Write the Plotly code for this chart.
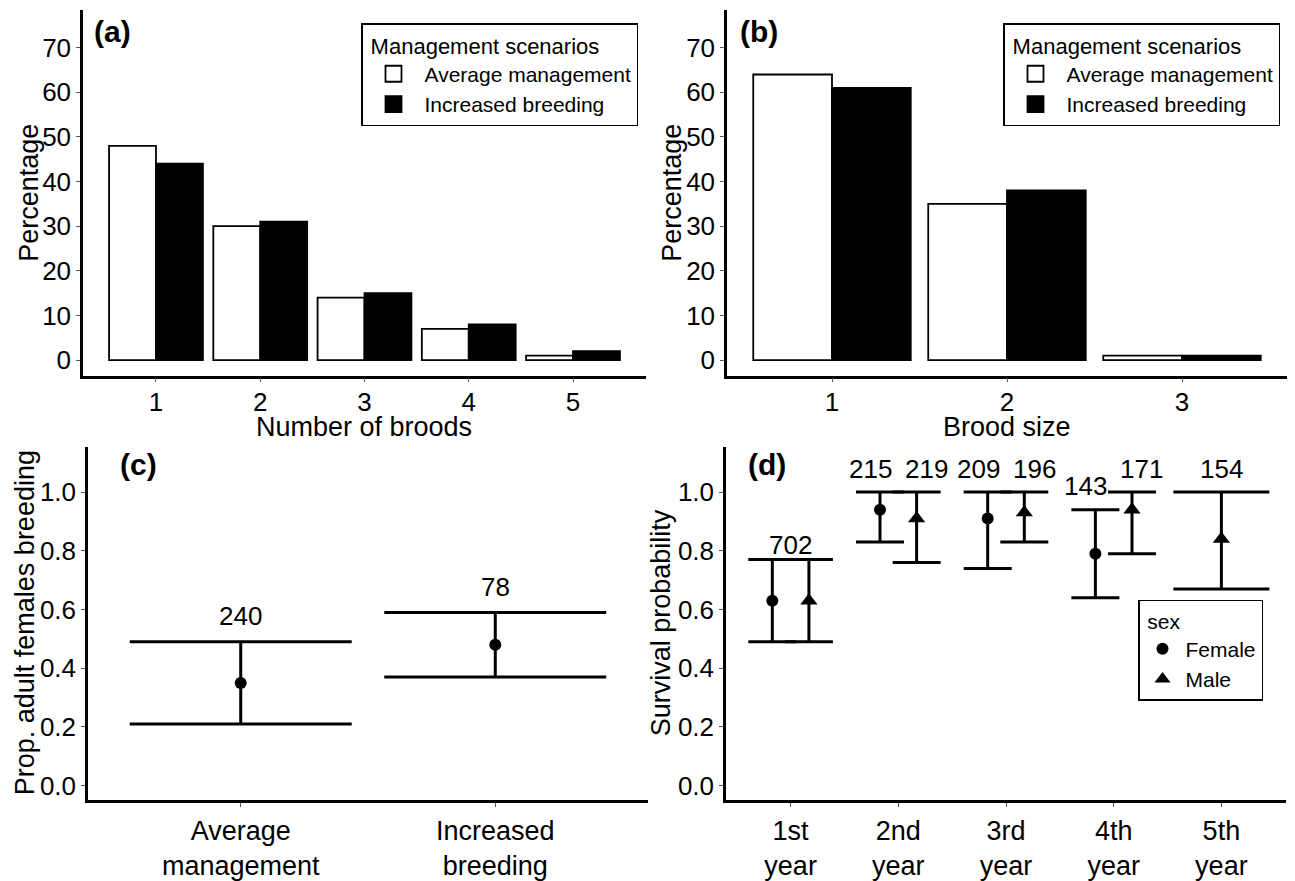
import plotly.graph_objects as go

W, H = 1295, 881

# ---------------- data ----------------
# (a) number of broods
broods = [1, 2, 3, 4, 5]
broods_avg = [48, 30, 14, 7, 1]
broods_inc = [44, 31, 15, 8, 2]

# (b) brood size
brood_size = [1, 2, 3]
size_avg = [64, 35, 1]
size_inc = [61, 38, 1]

# (c) proportion of adult females breeding
scenarios = ["Average<br>management", "Increased<br>breeding"]
prop_mean = [0.35, 0.48]
prop_lo = [0.21, 0.37]
prop_hi = [0.49, 0.59]
prop_n = [240, 78]

# (d) survival probability by age and sex
years = ["1st<br>year", "2nd<br>year", "3rd<br>year", "4th<br>year", "5th<br>year"]
female_mean = [0.63, 0.94, 0.91, 0.79, None]
female_lo = [0.49, 0.83, 0.74, 0.64, None]
female_hi = [0.77, 1.00, 1.00, 0.94, None]
male_mean = [0.63, 0.91, 0.93, 0.94, 0.84]
male_lo = [0.49, 0.76, 0.83, 0.79, 0.67]
male_hi = [0.77, 1.00, 1.00, 1.00, 1.00]
n_female = [None, 215, 209, 143, None]
n_male = [None, 219, 196, 171, 154]
n_pooled = [702, None, None, None, None]

FONT = "Liberation Sans, Arial, Helvetica, sans-serif"

def px(x):
    return x / W

def py(y):
    return 1 - y / H

fig = go.Figure()

# ---------------- (a) and (b) bars ----------------
for xs, avg, inc, ax, lg in [
    (broods, broods_avg, broods_inc, "", "legend"),
    (brood_size, size_avg, size_inc, "2", "legend2"),
]:
    fig.add_trace(go.Bar(x=xs, y=avg, name="Average management",
                         marker=dict(color="white", line=dict(color="black", width=1.8)),
                         xaxis="x" + ax, yaxis="y" + ax, showlegend=False,
                         offsetgroup="avg"))
    fig.add_trace(go.Bar(x=xs, y=inc, name="Increased breeding",
                         marker=dict(color="black", line=dict(color="black", width=1.8)),
                         xaxis="x" + ax, yaxis="y" + ax, showlegend=False,
                         offsetgroup="inc"))
    # legend keys
    for nm, col in [("Average management", "white"), ("Increased breeding", "black")]:
        fig.add_trace(go.Scatter(x=[None], y=[None], mode="markers", name=nm,
                                 marker=dict(symbol="square", size=16, color=col,
                                             line=dict(color="black", width=1.8)),
                                 xaxis="x" + ax, yaxis="y" + ax, legend=lg, showlegend=True))

# ---------------- (c) ----------------
c_x = list(range(1, len(scenarios) + 1))
fig.add_trace(go.Scatter(
    x=c_x, y=prop_mean, mode="markers",
    marker=dict(symbol="circle", size=12, color="black"),
    error_y=dict(type="data", symmetric=False,
                 array=[h - m for h, m in zip(prop_hi, prop_mean)],
                 arrayminus=[m - l for m, l in zip(prop_mean, prop_lo)],
                 width=111, thickness=3, color="black"),
    xaxis="x3", yaxis="y3", showlegend=False))

# ---------------- (d) ----------------
POINT_DODGE = 0.17
LABEL_DODGE = 0.26
d_x = list(range(1, len(years) + 1))

def both(i):
    return female_mean[i] is not None and male_mean[i] is not None

for sex, sym, means, los, his, sign, msize in [
    ("Female", "circle", female_mean, female_lo, female_hi, -1, 12),
    ("Male", "triangle-up", male_mean, male_lo, male_hi, 1, 15),
]:
    for dodged in (True, False):
        xs, ys, ep, em = [], [], [], []
        for i in range(len(years)):
            if means[i] is None or both(i) != dodged:
                continue
            xs.append(d_x[i] + sign * POINT_DODGE if dodged else d_x[i])
            ys.append(means[i])
            ep.append(his[i] - means[i])
            em.append(means[i] - los[i])
        if not xs:
            continue
        fig.add_trace(go.Scatter(
            x=xs, y=ys, mode="markers",
            marker=dict(symbol=sym, size=msize, color="black"),
            error_y=dict(type="data", symmetric=False, array=ep, arrayminus=em,
                         width=24 if dodged else 48, thickness=3, color="black"),
            xaxis="x4", yaxis="y4", showlegend=False))
    # legend-only entry
    fig.add_trace(go.Scatter(x=[None], y=[None], mode="markers", name=sex,
                             marker=dict(symbol=sym, size=12 if sym == "circle" else 14, color="black"),
                             xaxis="x4", yaxis="y4", legend="legend3", showlegend=True))

annotations = []

# count labels (c)
for x, hi, n in zip(c_x, prop_hi, prop_n):
    annotations.append(dict(x=x, y=hi + 0.087, xref="x3", yref="y3", text=str(n),
                            showarrow=False, font=dict(size=26, color="black", family=FONT),
                            yanchor="middle"))

# count labels (d)
for i in range(len(years)):
    if n_pooled[i] is not None:
        annotations.append(dict(x=d_x[i], y=max(female_hi[i] or 0, male_hi[i] or 0) + 0.05,
                                xref="x4", yref="y4", text=str(n_pooled[i]), showarrow=False,
                                font=dict(size=26, color="black", family=FONT), yanchor="middle"))
        continue
    for n, hi, sign in [(n_female[i], female_hi[i], -1), (n_male[i], male_hi[i], 1)]:
        if n is None:
            continue
        xpos = d_x[i] + sign * LABEL_DODGE if (n_female[i] is not None and n_male[i] is not None) else d_x[i]
        annotations.append(dict(x=xpos, y=hi + 0.08, xref="x4", yref="y4", text=str(n),
                                showarrow=False, font=dict(size=26, color="black", family=FONT),
                                yanchor="middle"))

# panel labels
for lab, x, y in [("(a)", 92, 32), ("(b)", 738, 32), ("(c)", 118, 475), ("(d)", 746, 475)]:
    annotations.append(dict(x=px(x), y=py(y), xref="paper", yref="paper", text="<b>%s</b>" % lab,
                            showarrow=False, xanchor="left", yanchor="middle",
                            font=dict(size=30, color="black", family=FONT)))

# axis titles
for txt, x, y, ang in [
    ("Percentage", 29, 197, -90),
    ("Percentage", 672, 197, -90),
    ("Number of broods", 364, 436, 0),
    ("Brood size", 1007, 436, 0),
    ("Prop. adult females breeding", 25, 637, -90),
    ("Survival probability", 661, 637, -90),
]:
    annotations.append(dict(x=px(x), y=py(y), xref="paper", yref="paper", text=txt,
                            showarrow=False, textangle=ang, xanchor="center", yanchor="middle",
                            font=dict(size=27, color="black", family=FONT)))

axis_common = dict(showline=True, linecolor="black", linewidth=2.5, ticks="outside",
                   ticklen=4, tickwidth=1, tickcolor="#555", showgrid=False, zeroline=False,
                   tickfont=dict(size=26, color="black", family=FONT), fixedrange=True)

legend_common = dict(xanchor="left", yanchor="top", bgcolor="white",
                     bordercolor="black", borderwidth=1.5, tracegroupgap=0, itemwidth=52,
                     font=dict(size=21, family=FONT, color="black"))

fig.update_layout(
    width=W, height=H, margin=dict(l=0, r=0, t=0, b=0),
    paper_bgcolor="white", plot_bgcolor="white",
    font=dict(family=FONT, color="black"),
    barmode="group", bargap=0.1, bargroupgap=0.0,
    xaxis=dict(domain=[px(83), px(646)], range=[0.3, 5.7], tickvals=broods,
               ticktext=[str(b) for b in broods], anchor="y", ticklabelstandoff=-3, **axis_common),
    yaxis=dict(domain=[py(384), py(10)], range=[-3.5, 78.5], tickvals=list(range(0, 80, 10)),
               anchor="x", **axis_common),
    xaxis2=dict(domain=[px(727), px(1287)], range=[0.4, 3.6], tickvals=brood_size,
                ticktext=[str(b) for b in brood_size], anchor="y2", ticklabelstandoff=-3, **axis_common),
    yaxis2=dict(domain=[py(384), py(10)], range=[-3.5, 78.5], tickvals=list(range(0, 80, 10)),
                anchor="x2", **axis_common),
    xaxis3=dict(domain=[px(88), px(648)], range=[0.4, 2.6], tickvals=c_x, ticktext=scenarios,
                anchor="y3", **{**axis_common, "tickfont": dict(size=27, color="black", family=FONT)}),
    yaxis3=dict(domain=[py(818), py(457)], range=[-0.05, 1.153],
                tickvals=[0, 0.2, 0.4, 0.6, 0.8, 1.0], tickformat=".1f", anchor="x3", **axis_common),
    xaxis4=dict(domain=[px(726), px(1286)], range=[0.4, 5.6], tickvals=d_x, ticktext=years,
                anchor="y4", **{**axis_common, "tickfont": dict(size=27, color="black", family=FONT)}),
    yaxis4=dict(domain=[py(818), py(457)], range=[-0.05, 1.153],
                tickvals=[0, 0.2, 0.4, 0.6, 0.8, 1.0], tickformat=".1f", anchor="x4", **axis_common),
    legend=dict(x=px(361), y=py(24), title=dict(text=" Management scenarios  ", font=dict(size=22, family=FONT)),
                **legend_common),
    legend2=dict(x=px(1003), y=py(24), title=dict(text=" Management scenarios  ", font=dict(size=22, family=FONT)),
                 **legend_common),
    legend3=dict(x=px(1138), y=py(613), title=dict(text=" sex", font=dict(size=21, family=FONT)),
                 **{**legend_common, "itemwidth": 36}),
    annotations=annotations,
)

fig.write_html(
    "out.html",
    config={"displayModeBar": False},
    post_script=("document.documentElement.style.margin='0';"
                 "document.documentElement.style.padding='0';"
                 "document.documentElement.style.overflow='hidden';"
                 "document.body.style.margin='0';"
                 "document.body.style.padding='0';"
                 "document.body.style.overflow='hidden';"),
)
